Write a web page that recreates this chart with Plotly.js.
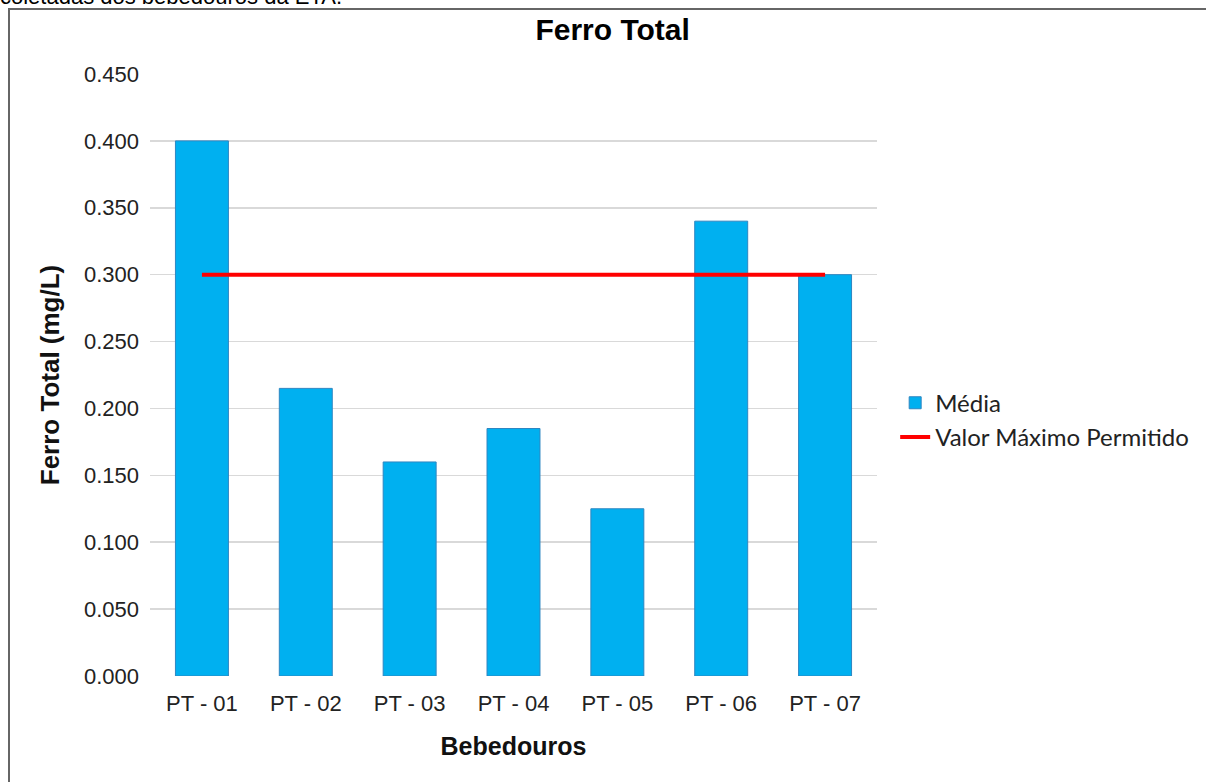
<!DOCTYPE html>
<html>
<head>
<meta charset="utf-8">
<script src="https://cdn.plot.ly/plotly-3.0.1.min.js"></script>
<style>
html,body{margin:0;padding:0;width:1206px;height:782px;overflow:hidden;background:#fff;}
#chart{position:absolute;left:0;top:0;width:1206px;height:782px;}
#frame{position:absolute;left:8px;top:8px;width:1206px;height:800px;border-left:2px solid #666;border-top:2px solid #666;pointer-events:none;}
#cut{position:absolute;left:0;top:-15px;font-family:Arial,"Liberation Sans",sans-serif;font-size:22px;line-height:24px;color:#000;white-space:nowrap;}
</style>
</head>
<body>
<div id="cut">coletadas dos bebedouros da ETA.</div>
<div id="chart"></div>
<div id="frame"></div>
<script>
const categories = ["PT - 01","PT - 02","PT - 03","PT - 04","PT - 05","PT - 06","PT - 07"];
const media = [0.400, 0.215, 0.160, 0.185, 0.125, 0.340, 0.300];
const vmp = [0.300, 0.300, 0.300, 0.300, 0.300, 0.300, 0.300];
const yTicks = [0, 0.05, 0.1, 0.15, 0.2, 0.25, 0.3, 0.35, 0.4, 0.45];

const traces = [
  {type:"bar", name:"Média", x:categories, y:media,
   marker:{color:"#00B0F0", line:{color:"#2E86C1", width:1}}},
  {type:"scatter", mode:"lines", name:"Valor Máximo Permitido", x:categories, y:vmp,
   line:{color:"#FF0000", width:4}}
];

const F = "Arial, Liberation Sans, sans-serif";
const layout = {
  width:1206, height:782,
  margin:{l:150, r:329, t:74, b:106},
  paper_bgcolor:"rgba(0,0,0,0)", plot_bgcolor:"#fff",
  bargap:0.49,
  title:{text:"<b>Ferro Total</b>", x:0.508, xanchor:"center", y:0.962, yanchor:"middle",
         font:{family:F, size:30, color:"#000"}},
  xaxis:{type:"category", range:[-0.5,6.5], showgrid:false, zeroline:false, showline:false,
         ticks:"", ticklabelstandoff:12, tickfont:{family:F, size:22, color:"#222"},
         title:{text:"<b>Bebedouros</b>", standoff:22,
                font:{family:F, size:25, color:"#111"}}},
  yaxis:{range:[0,0.45], tickvals:yTicks, tickformat:".3f", showgrid:true, gridcolor:"#d9d9d9", gridwidth:1.5,
         zeroline:false, showline:false, ticks:"", ticklen:0, ticklabelstandoff:10,
         tickfont:{family:F, size:22, color:"#222"},
         title:{text:"<b>Ferro Total (mg/L)</b>", standoff:16,
                font:{family:F, size:26, color:"#111"}}},
  showlegend:true,
  legend:{x:1.025, xanchor:"left", y:0.425, yanchor:"middle", tracegroupgap:6,
          font:{family:"Lato, Noto Sans, sans-serif", size:24, color:"#222"}, itemwidth:30}
};
Plotly.newPlot("chart", traces, layout, {displayModeBar:false, staticPlot:true});
</script>
</body>
</html>
